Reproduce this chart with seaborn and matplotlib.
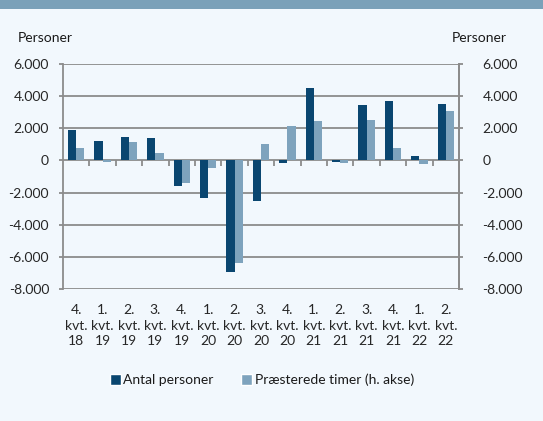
import matplotlib
matplotlib.use("Agg")
import matplotlib.pyplot as plt
import matplotlib.ticker as mticker
from matplotlib.patches import Rectangle, Patch
import seaborn as sns
import pandas as pd
import numpy as np

# data
kvartaler = ["4.\nkvt.\n18", "1.\nkvt.\n19", "2.\nkvt.\n19", "3.\nkvt.\n19",
             "4.\nkvt.\n19", "1.\nkvt.\n20", "2.\nkvt.\n20", "3.\nkvt.\n20",
             "4.\nkvt.\n20", "1.\nkvt.\n21", "2.\nkvt.\n21", "3.\nkvt.\n21",
             "4.\nkvt.\n21", "1.\nkvt.\n22", "2.\nkvt.\n22"]
antal_personer = [1900, 1200, 1450, 1400, -1600, -2350, -6950, -2550,
                  -150, 4500, -100, 3450, 3700, 300, 3500]
praesterede_timer = [800, -100, 1150, 450, -1400, -450, -6400, 1050,
                     2150, 2450, -150, 2500, 750, -250, 3050]
serier = ["Antal personer", "Præsterede timer (h. akse)"]
y_ticks = [-8000, -6000, -4000, -2000, 0, 2000, 4000, 6000]

dark = "#0a4670"
light = "#7ea3bd"
grid_col = "#8c8c8c"
bg = "#f2f8fd"

sns.set_style("white")
plt.rcParams["font.family"] = ["Lato", "DejaVu Sans"]
plt.rcParams["font.size"] = 10
plt.rcParams["text.color"] = "#1a1a1a"

df = pd.DataFrame({
    "kvartal": kvartaler * 2,
    "vaerdi": antal_personer + praesterede_timer,
    "serie": [serier[0]] * len(kvartaler) + [serier[1]] * len(kvartaler),
})

fig = plt.figure(figsize=(5.43, 4.21), dpi=100, facecolor=bg)
ax = fig.add_axes([63 / 543, 1 - 289 / 421, (459 - 63) / 543, (289 - 64) / 421])
ax.set_facecolor(bg)

sns.barplot(data=df, x="kvartal", y="vaerdi", hue="serie", order=kvartaler,
            hue_order=serier, palette=[dark, light], saturation=1, width=0.62,
            linewidth=0, ax=ax, zorder=3)
ax.get_legend().remove()

fmt = mticker.FuncFormatter(lambda v, p: f"{int(v):,}".replace(",", "."))
ax.set_ylim(-8000, 6000)
ax.set_xlim(-0.5, len(kvartaler) - 0.5)
ax.set_yticks(y_ticks)
ax.yaxis.set_major_formatter(fmt)
ax.set_xlabel("")
ax.set_ylabel("")
ax.grid(axis="y", color=grid_col, linewidth=1.3, zorder=1)
ax.set_axisbelow(True)
for s in ["top", "bottom"]:
    ax.spines[s].set_visible(False)
for s in ["left", "right"]:
    ax.spines[s].set_color(grid_col)
    ax.spines[s].set_linewidth(1.3)
ax.tick_params(axis="y", length=3, width=1.3, color=grid_col, pad=7, labelsize=10)
ax.tick_params(axis="x", length=0, pad=11, labelsize=10)
for lab in ax.get_xticklabels():
    lab.set_linespacing(1.35)

# short category separators hanging under the zero line
grenser = np.arange(1, len(kvartaler)) - 0.5
ax.vlines(grenser, -330, 0, colors=grid_col, linewidth=1.3, zorder=2)

ax2 = ax.twinx()
ax2.set_ylim(ax.get_ylim())
ax2.set_yticks(y_ticks)
ax2.yaxis.set_major_formatter(fmt)
for s in ["top", "bottom", "left"]:
    ax2.spines[s].set_visible(False)
ax2.spines["right"].set_color(grid_col)
ax2.spines["right"].set_linewidth(1.3)
ax2.tick_params(axis="y", direction="out", length=3, width=1.3, color=grid_col,
                pad=14, labelsize=10)

fig.text(18 / 543, 1 - 38 / 421, "Personer", ha="left", va="center", fontsize=10)
fig.text(507 / 543, 1 - 38 / 421, "Personer", ha="right", va="center", fontsize=10)

# header strip at the top
fig.patches.append(Rectangle((0, 1 - 8.5 / 421), 1, 8.5 / 421, transform=fig.transFigure,
                             facecolor="#7ba1b9", edgecolor="none"))

handles = [Patch(facecolor=dark), Patch(facecolor=light)]
fig.legend(handles, serier, loc="center", bbox_to_anchor=(262 / 543, 1 - 380 / 421),
           ncol=2, frameon=False, handlelength=0.75, handleheight=0.75,
           handletextpad=0.2, columnspacing=2.0, fontsize=10)

fig.savefig("out.png", dpi=100, facecolor=bg)
